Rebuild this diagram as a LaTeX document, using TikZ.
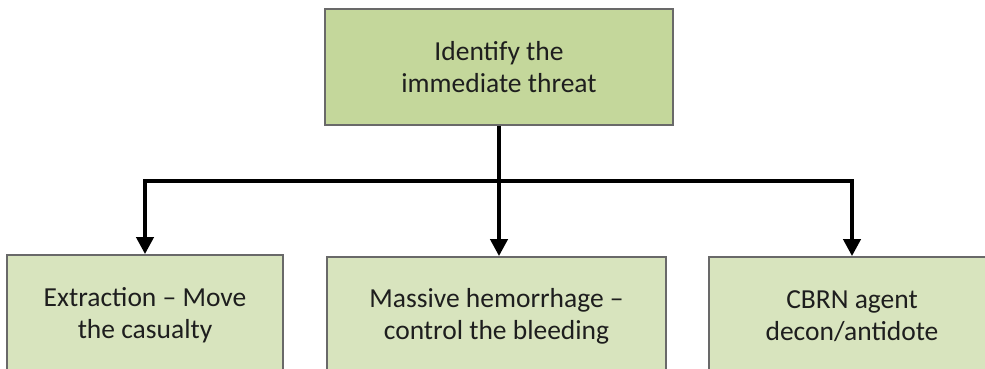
\documentclass[tikz,border=0pt]{standalone}
\usepackage{fontspec}
\setmainfont{Carlito}
\usetikzlibrary{arrows.meta}
\definecolor{topfill}{RGB}{196,215,155}
\definecolor{botfill}{RGB}{216,228,190}
\definecolor{edge}{RGB}{105,105,105}
\definecolor{txt}{RGB}{30,30,30}
\begin{document}
\begin{tikzpicture}[x=1pt,y=-1pt,
  box/.style={draw=edge,line width=1.8pt,rectangle,align=center,inner sep=0pt,
    text=txt,font=\fontsize{27.5}{32}\selectfont},
  topbox/.style={box,fill=topfill},
  botbox/.style={box,fill=botfill},
  conn/.style={line width=4pt,line join=miter,draw=black},
  arr/.style={conn,-{Triangle[width=17pt,length=17pt]}}]
\useasboundingbox (0,0) rectangle (985,368);
\begin{scope}
\clip (0,0) rectangle (985,368);
\node[topbox,minimum width=348pt,minimum height=116pt] (top) at (499,67) {Identify the\\immediate threat};
\node[botbox,minimum width=276pt,minimum height=120pt] (left) at (145,315) {Extraction – Move\\the casualty};
\node[botbox,minimum width=339pt,minimum height=118pt] (mid) at (496.5,316) {Massive hemorrhage –\\control the bleeding};
\node[botbox,minimum width=286pt,minimum height=118pt] (right) at (852,316) {CBRN agent\\decon/antidote};
\coordinate (j) at (499,181);
\draw[conn] (top.south) -- (j);
\draw[arr] (j) -| (left.north);
\draw[arr] (j) -| (right.north);
\draw[arr] (j) -- (j |- mid.north);
\end{scope}
\end{tikzpicture}
\end{document}
